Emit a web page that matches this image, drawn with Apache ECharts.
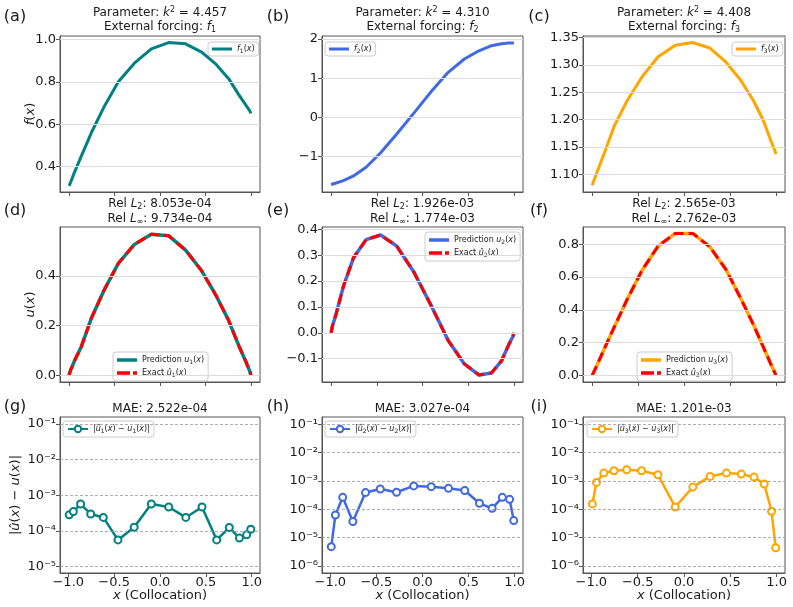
<!DOCTYPE html>
<html>
<head>
<meta charset="utf-8">
<script src="https://cdn.jsdelivr.net/npm/echarts@6/dist/echarts.min.js"></script>
<style>
  html, body { margin: 0; padding: 0; background: #fff; }
  #chart { width: 793px; height: 607px; }
</style>
</head>
<body>
<div id="chart"></div>
<script>
// x positions (boundary + 16 interior collocation nodes)
const xFull = [-1, -0.9894, -0.9446, -0.8656, -0.7554, -0.6179, -0.4580, -0.2816, -0.0950,
               0.0950, 0.2816, 0.4580, 0.6179, 0.7554, 0.8656, 0.9446, 0.9894, 1];
const xNodes = [-0.9894, -0.9446, -0.8656, -0.7554, -0.6179, -0.4580, -0.2816, -0.0950,
                0.0950, 0.2816, 0.4580, 0.6179, 0.7554, 0.8656, 0.9446, 0.9894];

// forcing terms
const f1 = [0.31, 0.32, 0.37, 0.45, 0.56, 0.68, 0.80, 0.888, 0.955, 0.985, 0.979, 0.94, 0.882, 0.815, 0.74, 0.69, 0.662, 0.652];
const f2 = [-1.71, -1.70, -1.67, -1.61, -1.49, -1.27, -0.90, -0.42, 0.11, 0.66, 1.15, 1.49, 1.70, 1.83, 1.88, 1.90, 1.90, 1.90];
const f3 = [1.080, 1.085, 1.105, 1.14, 1.19, 1.235, 1.278, 1.315, 1.336, 1.341, 1.331, 1.305, 1.272, 1.235, 1.198, 1.162, 1.143, 1.137];

// predictions and exact solutions (identical at plot resolution)
const u1Pred = [0, 0.015, 0.055, 0.115, 0.229, 0.34, 0.45, 0.526, 0.567, 0.561, 0.503, 0.42, 0.32, 0.22, 0.12, 0.055, 0.015, 0];
const u2Pred = [0, 0.022, 0.074, 0.18, 0.29, 0.36, 0.378, 0.335, 0.235, 0.105, -0.03, -0.12, -0.163, -0.155, -0.108, -0.045, -0.014, 0];
const u3Pred = [0, 0.012, 0.065, 0.165, 0.30, 0.465, 0.64, 0.79, 0.867, 0.867, 0.785, 0.645, 0.47, 0.31, 0.17, 0.07, 0.015, 0];
const u1Exact = [0, 0.015, 0.055, 0.115, 0.229, 0.34, 0.45, 0.526, 0.567, 0.561, 0.503, 0.42, 0.32, 0.22, 0.12, 0.055, 0.015, 0];
const u2Exact = [0, 0.022, 0.074, 0.18, 0.29, 0.36, 0.378, 0.335, 0.235, 0.105, -0.03, -0.12, -0.163, -0.155, -0.108, -0.045, -0.014, 0];
const u3Exact = [0, 0.012, 0.065, 0.165, 0.30, 0.465, 0.64, 0.79, 0.867, 0.867, 0.785, 0.645, 0.47, 0.31, 0.17, 0.07, 0.015, 0];

// absolute errors at the collocation nodes
const err1 = [2.84e-4, 3.5e-4, 5.7e-4, 3.0e-4, 2.4e-4, 5.6e-5, 1.28e-4, 5.7e-4, 4.7e-4, 2.4e-4, 4.7e-4, 5.6e-5, 1.25e-4, 6.3e-5, 7.8e-5, 1.12e-4];
const err2 = [4.8e-6, 6.3e-5, 2.65e-4, 3.7e-5, 3.9e-4, 5.2e-4, 4.0e-4, 6.7e-4, 6.3e-4, 5.5e-4, 4.6e-4, 1.63e-4, 1.08e-4, 2.65e-4, 2.25e-4, 4.0e-5];
const err3 = [1.55e-4, 8.9e-4, 1.9e-3, 2.3e-3, 2.5e-3, 2.3e-3, 1.66e-3, 1.21e-4, 6.1e-4, 1.45e-3, 1.9e-3, 1.75e-3, 1.37e-3, 7.8e-4, 8.5e-5, 4.4e-6];

// text values
const kValues = ['4.457', '4.310', '4.408'];
const relL2 = ['8.053e-04', '1.926e-03', '2.565e-03'];
const relLinf = ['9.734e-04', '1.774e-03', '2.762e-03'];
const maeValues = ['2.522e-04', '3.027e-04', '1.201e-03'];
const panelLabels = ['(a)', '(b)', '(c)', '(d)', '(e)', '(f)', '(g)', '(h)', '(i)'];

// tick values
const xTicks = [-1, -0.5, 0, 0.5, 1];
const yTicksF = [[0.4, 0.6, 0.8, 1.0], [-1, 0, 1, 2], [1.10, 1.15, 1.20, 1.25, 1.30, 1.35]];
const yTicksU = [[0, 0.2, 0.4], [-0.1, 0, 0.1, 0.2, 0.3, 0.4], [0, 0.2, 0.4, 0.6, 0.8]];
const yTicksErr = [[1e-5, 1e-4, 1e-3, 1e-2, 1e-1], [1e-6, 1e-5, 1e-4, 1e-3, 1e-2, 1e-1], [1e-6, 1e-5, 1e-4, 1e-3, 1e-2, 1e-1]];

const FONT = 'DejaVu Sans';
const TXT = '#1a1a1a';
const SPINE = '#555';
const colors = ['#008080', '#4169E1', '#FFA500'];
const RED = '#FF0000';
const SOLID_ICON = 'rect';
const DASH_ICON = 'path://M0,0h13v3h-13z M16,0h4v3h-4z';

// layout
const colL = [60, 322, 583], colW = [200, 201, 202];
const rowT = [36, 227, 417], rowH = [156, 155, 156];
const yRangeF = [[0.281, 1.016], [-1.90, 2.077], [1.0676, 1.353]];
const yRangeU = [[-0.027, 0.596], [-0.19, 0.409], [-0.041, 0.906]];
const yRangeErr = [[Math.pow(10, -5.18), Math.pow(10, -0.8)], [Math.pow(10, -6.25), Math.pow(10, -0.74)], [Math.pow(10, -6.25), Math.pow(10, -0.74)]];
const yDecimals = [[1, 0, 2], [1, 1, 1]];

function rich(fs, lh) {
  const sub = Math.round(fs * 0.7);
  return {
    i: { fontStyle: 'italic', fontSize: fs, fontFamily: FONT, color: TXT, fill: TXT, lineHeight: lh },
    s: { fontSize: sub, fontFamily: FONT, color: TXT, fill: TXT, lineHeight: Math.round(fs * 0.55), verticalAlign: 'bottom' },
    p: { fontSize: sub, fontFamily: FONT, color: TXT, fill: TXT, lineHeight: Math.round(fs * 0.55), verticalAlign: 'top' }
  };
}

const fmtNum = d => v => (v < 0 ? '\u2212' : '') + Math.abs(v).toFixed(d);
const SUP = { '-': '\u207B', '0': '\u2070', '1': '\u00B9', '2': '\u00B2', '3': '\u00B3', '4': '\u2074', '5': '\u2075', '6': '\u2076', '7': '\u2077', '8': '\u2078', '9': '\u2079' };
const fmtPow = v => '10' + String(Math.round(Math.log10(v))).split('').map(c => SUP[c]).join('');

const grids = [], xAxes = [], yAxes = [], series = [], legends = [], graphics = [];

function addPanel(r, c, cfg) {
  const i = grids.length;
  grids.push({
    left: colL[c], top: rowT[r], width: colW[c], height: rowH[r],
    show: true, borderColor: SPINE, borderWidth: 1, backgroundColor: 'transparent',
    outerBoundsMode: 'none', containLabel: false
  });
  const bottomRow = r === 2;
  xAxes.push({
    gridIndex: i, type: 'value',
    min: bottomRow ? -1.09 : -1.1, max: bottomRow ? 1.09 : 1.1,
    axisLine: { show: true, onZero: false, lineStyle: { color: SPINE, width: 1 } },
    axisTick: { show: true, customValues: xTicks, length: 4, lineStyle: { color: SPINE } },
    axisLabel: { show: bottomRow, customValues: xTicks, formatter: fmtNum(1), color: TXT, fontSize: 13, fontFamily: FONT, margin: 3 },
    splitLine: { show: false },
    name: bottomRow ? '{i|x} (Collocation)' : '',
    nameLocation: 'middle', nameGap: 15, nameMoveOverlap: false,
    nameTextStyle: { fontSize: 13, fontFamily: FONT, color: TXT, lineHeight: 15, rich: rich(13, 15) }
  });
  yAxes.push({
    gridIndex: i, type: cfg.log ? 'log' : 'value', logBase: 10,
    min: cfg.range[0], max: cfg.range[1],
    axisLine: { show: true, onZero: false, lineStyle: { color: SPINE, width: 1 } },
    axisTick: { show: true, customValues: cfg.ticks, length: 4, lineStyle: { color: SPINE } },
    axisLabel: { show: true, customValues: cfg.ticks, formatter: cfg.log ? fmtPow : fmtNum(cfg.dec),
                 color: TXT, fontSize: 13, fontFamily: FONT, margin: 4 },
    splitLine: { show: false },
    name: cfg.yName || '', nameLocation: 'middle', nameRotate: 90, nameGap: cfg.nameGap || 22,
    nameMoveOverlap: false,
    nameTextStyle: { fontSize: 13, fontFamily: FONT, color: TXT, lineHeight: 15, rich: rich(13, 15) }
  });
  // horizontal grid lines at the tick values
  series.push({
    type: 'line', xAxisIndex: i, yAxisIndex: i, data: [], silent: true, z: 1,
    markLine: {
      silent: true, symbol: ['none', 'none'], label: { show: false }, animation: false,
      precision: 12, emphasis: { disabled: true },
      lineStyle: bottomRow ? { color: '#9a9a9a', type: [3, 2], width: 0.8 } : { color: '#dcdcdc', type: 'solid', width: 1 },
      data: cfg.ticks.map(v => ({ yAxis: v }))
    }
  });
  return i;
}

const legendRich = rich(8, 10);
const legendText = {};

// row 1: forcing
const fSeries = [f1, f2, f3];
const fLegendPos = [[208, 42], [325, 42], [732, 42]];
for (let c = 0; c < 3; c++) {
  const i = addPanel(0, c, { range: yRangeF[c], ticks: yTicksF[c], dec: yDecimals[0][c],
                             yName: c === 0 ? '{i|f}({i|x})' : '', nameGap: 22 });
  const name = 'f' + (c + 1);
  legendText[name] = '{i|f}{s|' + (c + 1) + '}({i|x})';
  series.push({
    name, type: 'line', xAxisIndex: i, yAxisIndex: i, z: 3, symbol: 'none',
    data: xFull.map((x, k) => [x, fSeries[c][k]]),
    lineStyle: { color: colors[c], width: 3 }, itemStyle: { color: colors[c] },
    emphasis: { disabled: true }
  });
  legends.push({ data: [{ name, icon: SOLID_ICON }], itemHeight: 3, padding: [2, 4, 2, 4],
                 left: fLegendPos[c][0], top: fLegendPos[c][1] });
}

// row 2: prediction vs exact
const uPred = [u1Pred, u2Pred, u3Pred];
const uExact = [u1Exact, u2Exact, u3Exact];
const uLegendPos = [[113, 352], [425, 232], [637, 352]];
for (let c = 0; c < 3; c++) {
  const i = addPanel(1, c, { range: yRangeU[c], ticks: yTicksU[c], dec: yDecimals[1][c],
                             yName: c === 0 ? '{i|u}({i|x})' : '', nameGap: 22 });
  const pn = 'pred' + (c + 1), en = 'exact' + (c + 1);
  legendText[pn] = 'Prediction {i|u}{s|' + (c + 1) + '}({i|x})';
  legendText[en] = 'Exact {i|\u00FB}{s|' + (c + 1) + '}({i|x})';
  series.push({
    name: pn, type: 'line', xAxisIndex: i, yAxisIndex: i, z: 3, symbol: 'none',
    data: xFull.map((x, k) => [x, uPred[c][k]]),
    lineStyle: { color: colors[c], width: 3.5 }, itemStyle: { color: colors[c] },
    emphasis: { disabled: true }
  });
  series.push({
    name: en, type: 'line', xAxisIndex: i, yAxisIndex: i, z: 4, symbol: 'none',
    data: xFull.map((x, k) => [x, uExact[c][k]]),
    lineStyle: { color: RED, width: 3, type: [10, 5] }, itemStyle: { color: RED },
    emphasis: { disabled: true }
  });
  legends.push({ data: [{ name: pn, icon: SOLID_ICON }, { name: en, icon: DASH_ICON }],
                 itemHeight: 3.5, padding: [3, 4, 3, 4],
                 left: uLegendPos[c][0], top: uLegendPos[c][1] });
}

// row 3: pointwise errors (log scale)
const errs = [err1, err2, err3];
const eLegendPos = [[63, 421], [325, 421], [587, 421]];
for (let c = 0; c < 3; c++) {
  const i = addPanel(2, c, { log: true, range: yRangeErr[c], ticks: yTicksErr[c],
                             yName: c === 0 ? '|{i|\u00FB}({i|x}) \u2212 {i|u}({i|x})|' : '', nameGap: 37 });
  const name = 'err' + (c + 1);
  legendText[name] = '|{i|\u00FB}{s|' + (c + 1) + '}({i|x}) \u2212 {i|u}{s|' + (c + 1) + '}({i|x})|';
  series.push({
    name, type: 'line', xAxisIndex: i, yAxisIndex: i, z: 3,
    symbol: 'emptyCircle', symbolSize: 7, showSymbol: true, showAllSymbol: true,
    data: xNodes.map((x, k) => [x, errs[c][k]]),
    lineStyle: { color: colors[c], width: 2.5 },
    itemStyle: { color: colors[c], borderWidth: 2 },
    emphasis: { disabled: true }
  });
  legends.push({ data: [name], itemHeight: 8, padding: [3, 4, 3, 4],
                 left: eLegendPos[c][0], top: eLegendPos[c][1] });
}

legends.forEach(l => Object.assign(l, {
  orient: 'vertical', itemWidth: 20, itemGap: 3, symbolKeepAspect: false,
  borderColor: '#cccccc', borderWidth: 1, borderRadius: 3,
  backgroundColor: 'rgba(255,255,255,0.85)', selectedMode: false,
  formatter: n => legendText[n],
  textStyle: { fontSize: 8, fontFamily: FONT, color: TXT, lineHeight: 10, rich: legendRich }
}));

// titles and panel letters
const colCenters = colL.map((l, c) => l + colW[c] / 2);
function addText(x, y, text, fs, lh) {
  graphics.push({
    type: 'text', x, y, silent: true,
    style: { text, fontSize: fs, fontFamily: FONT, fill: TXT, lineHeight: lh,
             align: 'center', verticalAlign: 'middle', rich: rich(fs, lh) }
  });
}
for (let c = 0; c < 3; c++) {
  addText(colCenters[c], 13, 'Parameter: {i|k}{p|2} = ' + kValues[c], 12, 14);
  addText(colCenters[c], 27, 'External forcing: {i|f}{s|' + (c + 1) + '}', 12, 14);
  addText(colCenters[c], 204, 'Rel {i|L}{s|2}: ' + relL2[c], 12, 14);
  addText(colCenters[c], 219, 'Rel {i|L}{s|\u221E}: ' + relLinf[c], 12, 14);
  addText(colCenters[c], 409, 'MAE: ' + maeValues[c], 12, 14);
}
const labelX = [15, 278, 539], labelY = [17, 211, 407];
for (let r = 0; r < 3; r++) {
  for (let c = 0; c < 3; c++) {
    addText(labelX[c], labelY[r], panelLabels[r * 3 + c], 16, 18);
  }
}

const chart = echarts.init(document.getElementById('chart'), null, { renderer: 'canvas' });
chart.setOption({
  animation: false,
  backgroundColor: '#fff',
  grid: grids,
  xAxis: xAxes,
  yAxis: yAxes,
  legend: legends,
  series: series,
  graphic: graphics
});
</script>
</body>
</html>
